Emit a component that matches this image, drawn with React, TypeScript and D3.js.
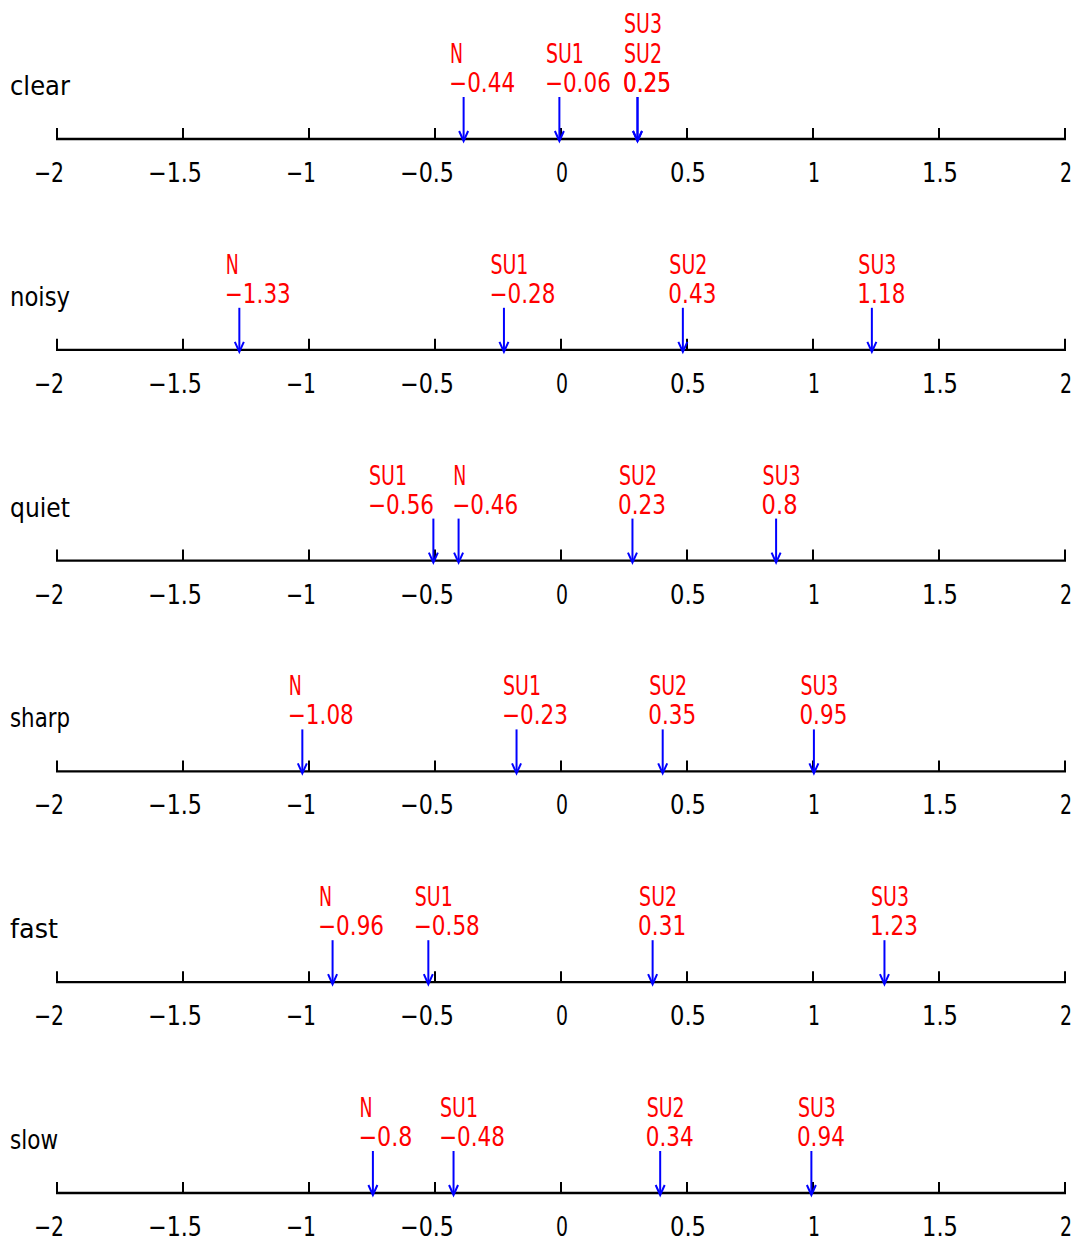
import React from 'react';
import * as d3 from 'd3';

const WIDTH = 1079;
const HEIGHT = 1244;

// rows (one number line per adjective) and the four conditions shown on each
const categories = ['clear', 'noisy', 'quiet', 'sharp', 'fast', 'slow'];
const series = ['N', 'SU1', 'SU2', 'SU3'];

// values per condition, in the order of `categories`
const valuesN = [-0.44, -1.33, -0.46, -1.08, -0.96, -0.8];
const valuesSU1 = [-0.06, -0.28, -0.56, -0.23, -0.58, -0.48];
const valuesSU2 = [0.25, 0.43, 0.23, 0.35, 0.31, 0.34];
const valuesSU3 = [0.25, 1.18, 0.8, 0.95, 1.23, 0.94];
const seriesValues = [valuesN, valuesSU1, valuesSU2, valuesSU3];

const tickValues = [-2, -1.5, -1, -0.5, 0, 0.5, 1, 1.5, 2];

const settings = {
  axisLeft: 57,
  axisRight: 1065,
  firstAxisY: 139,
  lastAxisY: 1193,
  fontSize: 27,
  arrowLength: 42,
  arrowShift: 13.5, // arrow sits a little right of the label start
  lineGap: 30,
  labelGap: 10
};

const FONT = '"DejaVu Sans", "Liberation Sans", sans-serif';
const fmt = d3.format('~g');

// rough advance of each glyph in the original (narrow gothic) font
const charWidth = (c: string) => (c === '−' ? 18 : /[A-Z]/.test(c) ? 13 : 12);
const textWidth = (s: string) => Array.from(s).reduce((w, c) => w + charWidth(c), 0);

const Label = ({ x, y, text, fill = '#000', anchor = 'start' }: any) => (
  <text
    x={x}
    y={y}
    fill={fill}
    fontFamily={FONT}
    fontSize={settings.fontSize}
    textAnchor={anchor}
    textLength={textWidth(text)}
    lengthAdjust="spacingAndGlyphs"
  >
    {text}
  </text>
);

const xScale = d3.scaleLinear().domain([-2, 2]).range([settings.axisLeft, settings.axisRight]);
const yScale = d3.scalePoint().domain(categories).range([settings.firstAxisY, settings.lastAxisY]);

// push overlapping labels apart; identical positions get their names stacked instead
function layoutRow(rowIndex: number) {
  const items = series.map((name, i) => {
    const v = seriesValues[i][rowIndex];
    return { name, v, text: fmt(v), x: xScale(v), arrowX: xScale(v) + settings.arrowShift, level: 0 };
  });
  const sorted = [...items].sort((a, b) => a.x - b.x);
  for (let k = 1; k < sorted.length; k++) {
    const a = sorted[k - 1];
    const b = sorted[k];
    if (Math.abs(b.x - a.x) < 1) {
      b.level = a.level + 1;
      b.x = a.x;
      continue;
    }
    const w = Math.max(textWidth(a.text), textWidth(a.name));
    const need = a.x + w + settings.labelGap - b.x;
    if (need > 0) {
      a.x -= need;
      b.x += need * 0.16;
    }
  }
  return items;
}

const NumberLine = ({ category, index }: { category: string; index: number }) => {
  const y = yScale(category) as number;
  const items = layoutRow(index);
  const valueY = y - 47;
  const nameY = y - 76;

  return (
    <g>
      <Label x={10} y={y - 44} text={category} />

      <line x1={settings.axisLeft - 1} x2={settings.axisRight + 1} y1={y} y2={y} stroke="#000" strokeWidth={2.3} />
      {tickValues.map((t) => {
        const label = fmt(t);
        const digits = label.replace('−', '');
        return (
          <g key={t}>
            <line x1={xScale(t)} x2={xScale(t)} y1={y - 11} y2={y} stroke="#000" strokeWidth={2} />
            <Label x={xScale(t) + textWidth(digits) / 2 + 1} y={y + 43} text={label} anchor="end" />
          </g>
        );
      })}

      {items.map((d) => (
        <g key={d.name}>
          <line
            x1={d.arrowX}
            x2={d.arrowX}
            y1={y - settings.arrowLength}
            y2={y + 1}
            stroke="#0000ff"
            strokeWidth={2}
          />
          <polyline
            points={`${d.arrowX - 4.5},${y - 8} ${d.arrowX},${y + 2} ${d.arrowX + 4.5},${y - 8}`}
            fill="none"
            stroke="#0000ff"
            strokeWidth={2}
          />
          <Label x={d.x} y={nameY - d.level * settings.lineGap} text={d.name} fill="#ff0000" />
          <Label x={d.x - 1} y={valueY} text={d.text} fill="#ff0000" />
        </g>
      ))}
    </g>
  );
};

export default function App() {
  return (
    <svg
      width={WIDTH}
      height={HEIGHT}
      style={{ position: 'absolute', left: 0, top: 0, background: '#fff' }}
    >
      {categories.map((c, i) => (
        <NumberLine key={c} category={c} index={i} />
      ))}
    </svg>
  );
}
